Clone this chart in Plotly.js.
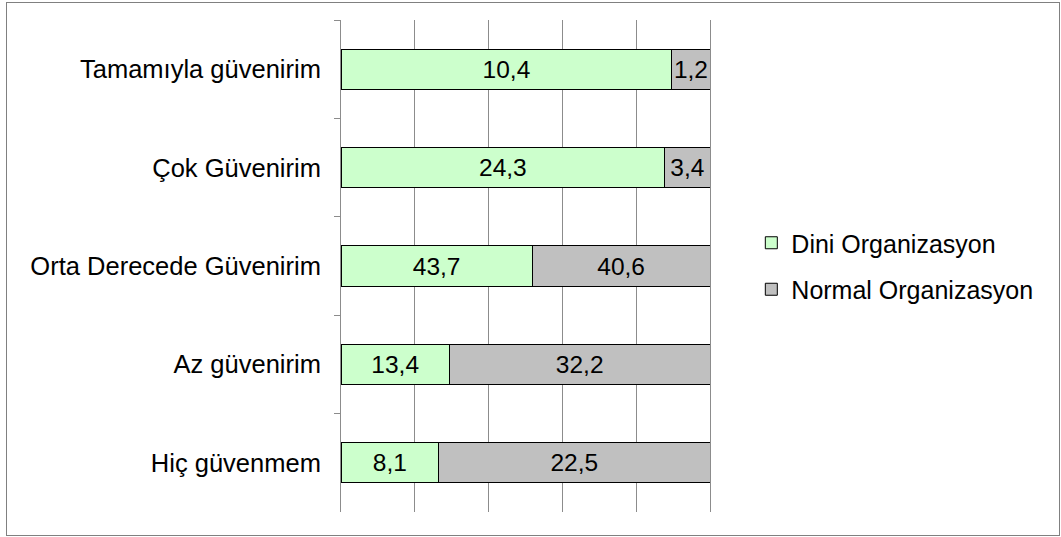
<!DOCTYPE html>
<html>
<head>
<meta charset="utf-8">
<script src="https://cdn.plot.ly/plotly-3.0.1.min.js"></script>
<style>
  html, body { margin: 0; padding: 0; background: #fff; }
  #wrap { position: relative; width: 1061px; height: 537px; }
  #chart { position: absolute; left: 0; top: 0; width: 1061px; height: 537px; }
  #frame { position: absolute; left: 6px; top: 2px; width: 1052px; height: 532px; border: 1px solid #808080; pointer-events: none; }
</style>
</head>
<body>
<div id="wrap">
  <div id="chart"></div>
  <div id="frame"></div>
</div>
<script>
const categories = ["Tamamıyla güvenirim", "Çok Güvenirim", "Orta Derecede Güvenirim", "Az güvenirim", "Hiç güvenmem"];
const diniValues = [10.4, 24.3, 43.7, 13.4, 8.1];
const normalValues = [1.2, 3.4, 40.6, 32.2, 22.5];
const seriesNames = ["Dini Organizasyon", "Normal Organizasyon"];

const fmt = v => String(v).replace('.', ',');
const font = "Liberation Sans, Arial, sans-serif";
const fsize = 25.5;

function makeTrace(vals, name, color, group) {
  return {
    type: 'bar',
    orientation: 'h',
    y: categories,
    x: vals,
    name: name,
    legendgroup: group,
    text: vals.map(fmt),
    texttemplate: '%{text}',
    textposition: 'inside',
    insidetextanchor: 'middle',
    textangle: 0,
    constraintext: 'none',
    insidetextfont: { family: font, size: 24.5, color: '#000' },
    marker: { color: color, line: { color: '#000', width: 1 } },
    hoverinfo: 'skip'
  };
}

const data = [
  makeTrace(diniValues, seriesNames[0], '#ccffcc', 'g1'),
  makeTrace(normalValues, seriesNames[1], '#c0c0c0', 'g2')
];

const layout = {
  width: 1061,
  height: 537,
  margin: { l: 341, r: 351, t: 20, b: 25, pad: 0 },
  paper_bgcolor: '#fff',
  plot_bgcolor: '#fff',
  barmode: 'stack',
  barnorm: 'percent',
  bargap: 0.59,
  font: { family: font, size: fsize, color: '#000' },
  xaxis: {
    range: [0, 100],
    dtick: 20,
    showticklabels: false,
    ticks: '',
    showgrid: true,
    gridcolor: '#8c8c8c',
    gridwidth: 1,
    zeroline: false,
    showline: false,
    fixedrange: true
  },
  yaxis: {
    type: 'category',
    autorange: 'reversed',
    showline: true,
    mirror: true,
    linecolor: '#8c8c8c',
    linewidth: 1,
    ticks: 'outside',
    tickson: 'boundaries',
    ticklen: 6,
    tickcolor: '#8c8c8c',
    showgrid: false,
    zeroline: false,
    ticklabelstandoff: 14,
    tickfont: { family: font, size: fsize, color: '#000' },
    fixedrange: true
  },
  showlegend: true,
  legend: {
    x: 1.112,
    y: 0.5,
    xanchor: 'left',
    yanchor: 'middle',
    traceorder: 'grouped',
    tracegroupgap: 11,
    itemwidth: 30,
    font: { family: font, size: 25, color: '#000' },
    bgcolor: 'rgba(0,0,0,0)'
  }
};

Plotly.newPlot('chart', data, layout, { staticPlot: true, displayModeBar: false });
</script>
</body>
</html>
